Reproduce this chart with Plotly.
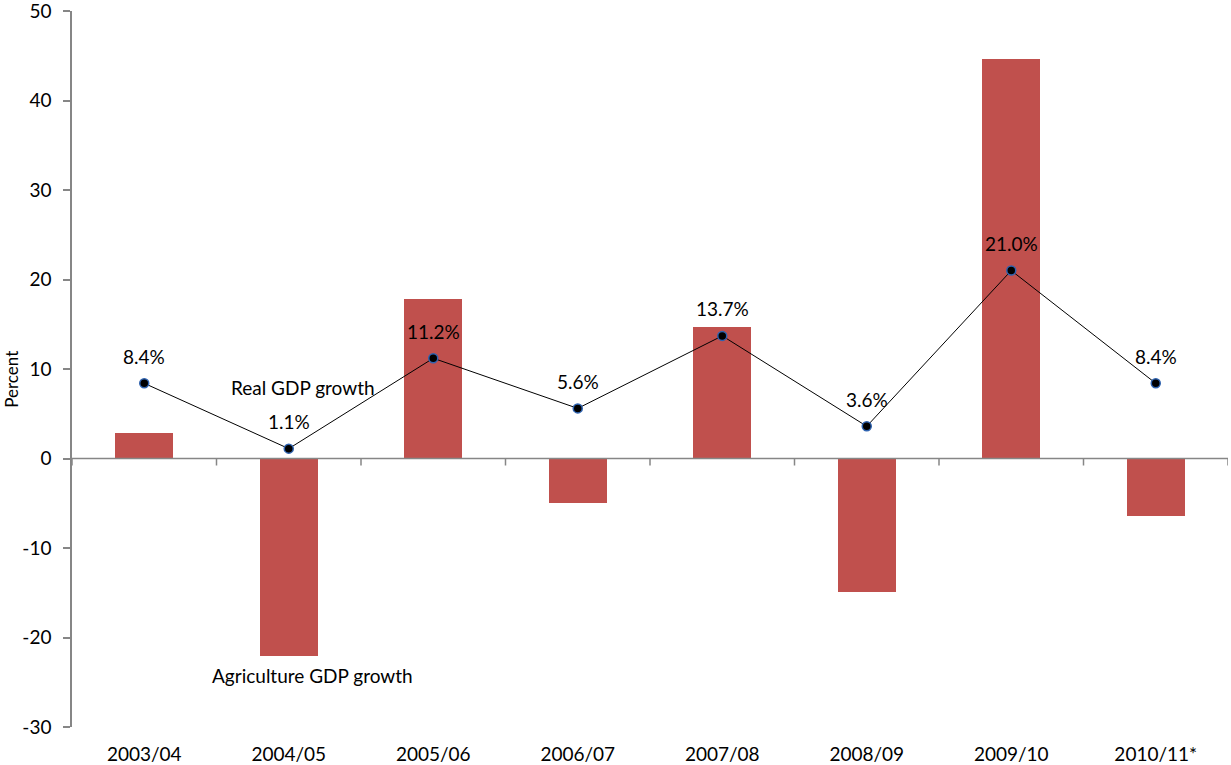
import plotly.graph_objects as go

# Fiscal years
years = ["2003/04", "2004/05", "2005/06", "2006/07", "2007/08", "2008/09", "2009/10", "2010/11*"]
# Agriculture GDP growth (%)
agri_growth = [2.8, -22.1, 17.8, -5.0, 14.7, -14.9, 44.6, -6.4]
# Real GDP growth (%)
real_growth = [8.4, 1.1, 11.2, 5.6, 13.7, 3.6, 21.0, 8.4]
# Y-axis ticks
y_ticks = [-30, -20, -10, 0, 10, 20, 30, 40, 50]

FONT = "Lato, 'Open Sans', sans-serif"
AXIS_GREY = "#868686"
TXT = 19
xs = list(range(len(years)))

fig = go.Figure()

fig.add_trace(go.Bar(
    x=xs, y=agri_growth, width=0.4,
    marker=dict(color="#c0504d", line=dict(width=0)),
    name="Agriculture GDP growth", showlegend=False,
))

fig.add_trace(go.Scatter(
    x=xs, y=real_growth, mode="lines+markers",
    line=dict(color="black", width=1),
    marker=dict(color="black", size=9, line=dict(color="#2f63b0", width=1.5)),
    name="Real GDP growth", showlegend=False,
))

annotations = []
for x, v in zip(xs, real_growth):
    annotations.append(dict(
        x=x, y=v, xref="x", yref="y", text=f"{v:.1f}%", showarrow=False,
        yanchor="middle", yshift=27, font=dict(family=FONT, size=TXT, color="black"),
    ))
annotations.append(dict(
    x=1, y=10, xref="x", yref="y", text="Real GDP growth", showarrow=False,
    xanchor="center", yanchor="middle", xshift=14, yshift=-18,
    font=dict(family=FONT, size=TXT, color="black"),
))
annotations.append(dict(
    x=1, y=-24.5, xref="x", yref="y", text="Agriculture GDP growth", showarrow=False,
    xanchor="center", yanchor="middle", xshift=24, yshift=2,
    font=dict(family=FONT, size=TXT, color="black"),
))
annotations.append(dict(
    x=-60 / 1156, y=8.8, xref="paper", yref="y", text="Percent", showarrow=False,
    textangle=-90, xanchor="center", yanchor="middle",
    font=dict(family=FONT, size=17, color="black"),
))

# Category axis drawn along zero, with boundary tick marks
shapes = [dict(type="line", xref="paper", yref="y", x0=0, x1=1, y0=0, y1=0,
               line=dict(color=AXIS_GREY, width=1.5))]
for b in [i - 0.5 for i in range(len(years) + 1)]:
    shapes.append(dict(type="line", xref="x", yref="y", ysizemode="pixel", yanchor=0,
                       x0=b, x1=b, y0=0, y1=-7, line=dict(color=AXIS_GREY, width=1.5)))

fig.update_layout(
    width=1231, height=765,
    margin=dict(l=72, r=3, t=11, b=38, autoexpand=False),
    plot_bgcolor="white", paper_bgcolor="white",
    font=dict(family=FONT, size=TXT, color="black"),
    bargap=0,
    annotations=annotations,
    shapes=shapes,
    xaxis=dict(
        range=[-0.5, len(years) - 0.5], tickvals=xs, ticktext=years,
        showline=False, showgrid=False, zeroline=False, ticks="",
        ticklabelstandoff=14, ticklabeloverflow="allow", automargin=False,
        tickfont=dict(family=FONT, size=TXT, color="black"),
    ),
    yaxis=dict(
        range=[-30, 50], tickvals=y_ticks, ticktext=[str(t) for t in y_ticks],
        showline=True, linecolor=AXIS_GREY, linewidth=1.5,
        ticks="outside", ticklen=7, tickcolor=AXIS_GREY, tickwidth=1.5,
        ticklabelstandoff=8, ticklabeloverflow="allow", automargin=False,
        showgrid=False, zeroline=False,
        tickfont=dict(family=FONT, size=TXT, color="black"),
    ),
)

fig.write_html("out.html")
